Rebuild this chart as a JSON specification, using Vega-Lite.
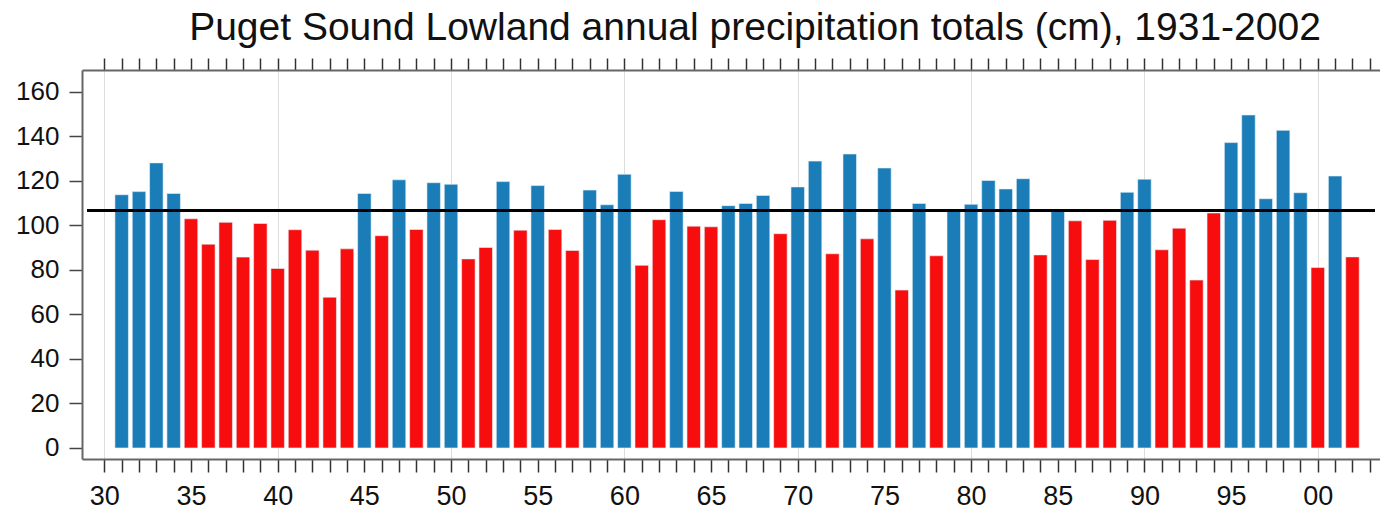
{
  "$schema": "https://vega.github.io/schema/vega-lite/v6.json",
  "width": 1298,
  "height": 389,
  "autosize": "none",
  "padding": {"left": 82, "top": 70, "right": 0, "bottom": 54},
  "background": "white",
  "config": {
    "view": {"stroke": null},
    "font": "Liberation Sans"
  },
  "title": {
    "text": "Puget Sound Lowland annual precipitation totals (cm), 1931-2002",
    "fontSize": 39,
    "fontWeight": "normal",
    "color": "#111111",
    "anchor": "middle",
    "frame": "group",
    "dx": 24,
    "offset": 9
  },
  "data": {
    "values": [
      {"year": 1931, "precip": 113.7}, {"year": 1932, "precip": 115.1}, {"year": 1933, "precip": 128.0},
      {"year": 1934, "precip": 114.3}, {"year": 1935, "precip": 102.9}, {"year": 1936, "precip": 91.5},
      {"year": 1937, "precip": 101.3}, {"year": 1938, "precip": 85.7}, {"year": 1939, "precip": 100.8},
      {"year": 1940, "precip": 80.6}, {"year": 1941, "precip": 98.0}, {"year": 1942, "precip": 88.8},
      {"year": 1943, "precip": 67.7}, {"year": 1944, "precip": 89.4}, {"year": 1945, "precip": 114.3},
      {"year": 1946, "precip": 95.3}, {"year": 1947, "precip": 120.4}, {"year": 1948, "precip": 98.1},
      {"year": 1949, "precip": 119.1}, {"year": 1950, "precip": 118.4}, {"year": 1951, "precip": 84.9},
      {"year": 1952, "precip": 90.0}, {"year": 1953, "precip": 119.6}, {"year": 1954, "precip": 97.8},
      {"year": 1955, "precip": 117.8}, {"year": 1956, "precip": 98.1}, {"year": 1957, "precip": 88.7},
      {"year": 1958, "precip": 115.8}, {"year": 1959, "precip": 109.2}, {"year": 1960, "precip": 122.9},
      {"year": 1961, "precip": 82.0}, {"year": 1962, "precip": 102.5}, {"year": 1963, "precip": 115.2},
      {"year": 1964, "precip": 99.6}, {"year": 1965, "precip": 99.3}, {"year": 1966, "precip": 108.8},
      {"year": 1967, "precip": 109.8}, {"year": 1968, "precip": 113.4}, {"year": 1969, "precip": 96.2},
      {"year": 1970, "precip": 117.2}, {"year": 1971, "precip": 128.8}, {"year": 1972, "precip": 87.2},
      {"year": 1973, "precip": 132.0}, {"year": 1974, "precip": 93.9}, {"year": 1975, "precip": 125.7},
      {"year": 1976, "precip": 70.9}, {"year": 1977, "precip": 109.8}, {"year": 1978, "precip": 86.3},
      {"year": 1979, "precip": 107.0}, {"year": 1980, "precip": 109.4}, {"year": 1981, "precip": 120.1},
      {"year": 1982, "precip": 116.3}, {"year": 1983, "precip": 120.9}, {"year": 1984, "precip": 86.7},
      {"year": 1985, "precip": 106.9}, {"year": 1986, "precip": 102.0}, {"year": 1987, "precip": 84.6},
      {"year": 1988, "precip": 102.2}, {"year": 1989, "precip": 114.8}, {"year": 1990, "precip": 120.7},
      {"year": 1991, "precip": 89.0}, {"year": 1992, "precip": 98.7}, {"year": 1993, "precip": 75.4},
      {"year": 1994, "precip": 105.5}, {"year": 1995, "precip": 137.1}, {"year": 1996, "precip": 149.5},
      {"year": 1997, "precip": 111.9}, {"year": 1998, "precip": 142.6}, {"year": 1999, "precip": 114.6},
      {"year": 2000, "precip": 81.0}, {"year": 2001, "precip": 122.1}, {"year": 2002, "precip": 85.8}
    ]
  },
  "resolve": {"axis": {"x": "independent"}},
  "layer": [
    {
      "mark": {"type": "bar", "size": 13.5, "stroke": "#e8f2f8", "strokeWidth": 0.6},
      "encoding": {
        "x": {
          "field": "year",
          "type": "quantitative",
          "scale": {"domain": [1929, 2003.3], "nice": false, "zero": false},
          "axis": {
            "orient": "bottom",
            "title": null,
            "values": [1930,1931,1932,1933,1934,1935,1936,1937,1938,1939,1940,1941,1942,1943,1944,1945,1946,1947,1948,1949,1950,1951,1952,1953,1954,1955,1956,1957,1958,1959,1960,1961,1962,1963,1964,1965,1966,1967,1968,1969,1970,1971,1972,1973,1974,1975,1976,1977,1978,1979,1980,1981,1982,1983,1984,1985,1986,1987,1988,1989,1990,1991,1992,1993,1994,1995,1996,1997,1998,1999,2000,2001,2002,2003],
            "labelExpr": "datum.value % 5 == 0 ? slice('' + datum.value, 2) : ''",
            "labelFontSize": 27,
            "labelColor": "#111111",
            "labelPadding": 11,
            "labelOverlap": false,
            "labelFlush": false,
            "tickSize": 13,
            "tickWidth": 1.5,
            "tickColor": "#333333",
            "domainColor": "#666666",
            "domainWidth": 2,
            "grid": true,
            "gridColor": "#dddddd",
            "gridWidth": 1,
            "gridOpacity": {"condition": {"test": "datum.value % 10 == 0", "value": 1}, "value": 0}
          }
        },
        "y": {
          "field": "precip",
          "type": "quantitative",
          "scale": {"domain": [-4.94, 169.7], "nice": false, "zero": false},
          "axis": {
            "title": null,
            "values": [0, 20, 40, 60, 80, 100, 120, 140, 160],
            "labelFontSize": 26,
            "labelColor": "#111111",
            "labelPadding": 10,
            "tickSize": 13,
            "tickWidth": 1.5,
            "tickColor": "#444444",
            "domainColor": "#666666",
            "domainWidth": 2,
            "grid": false
          }
        },
        "y2": {"datum": 0},
        "color": {
          "condition": {"test": "datum.precip > 106.7", "value": "#1b7db8"},
          "value": "#f70d0d"
        }
      }
    },
    {
      "mark": {"type": "rule", "color": "#000000", "strokeWidth": 2.5},
      "encoding": {
        "x": {
          "datum": 1929,
          "type": "quantitative",
          "axis": {
            "orient": "top",
            "title": null,
            "labels": false,
            "values": [1930,1931,1932,1933,1934,1935,1936,1937,1938,1939,1940,1941,1942,1943,1944,1945,1946,1947,1948,1949,1950,1951,1952,1953,1954,1955,1956,1957,1958,1959,1960,1961,1962,1963,1964,1965,1966,1967,1968,1969,1970,1971,1972,1973,1974,1975,1976,1977,1978,1979,1980,1981,1982,1983,1984,1985,1986,1987,1988,1989,1990,1991,1992,1993,1994,1995,1996,1997,1998,1999,2000,2001,2002,2003],
            "tickSize": 12,
            "tickWidth": 1.5,
            "tickColor": "#333333",
            "domainColor": "#666666",
            "domainWidth": 2,
            "grid": false
          }
        },
        "x2": {"datum": 2003.3},
        "y": {"datum": 106.7, "type": "quantitative"}
      }
    }
  ]
}
